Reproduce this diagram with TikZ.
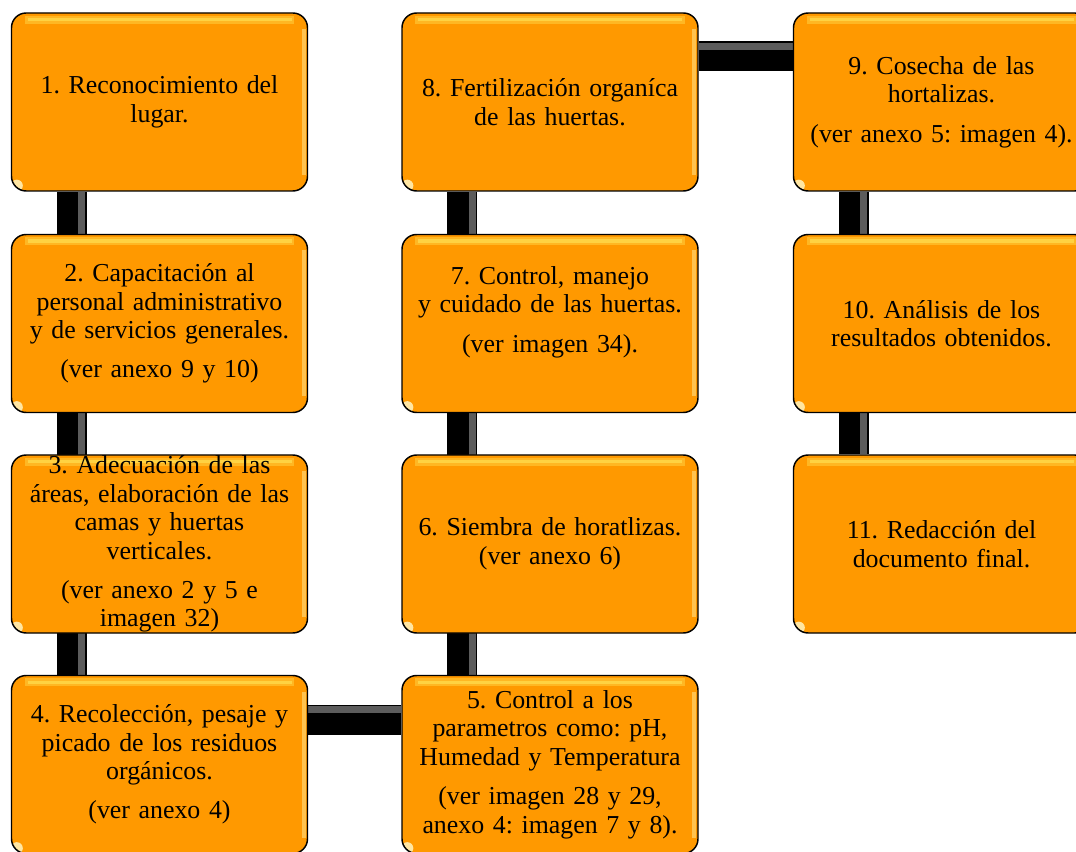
\documentclass[tikz,border=0pt]{standalone}
\usepackage{fontspec}
\setmainfont{Liberation Serif}
\usetikzlibrary{calc,backgrounds}
\definecolor{naranja}{RGB}{255,153,0}
\definecolor{brillo}{RGB}{255,214,70}
\newcommand{\salto}{8pt}
\tikzset{
  paso/.style={draw=black, line width=1.1pt, fill=naranja, rounded corners=11pt,
    minimum width=222pt, minimum height=133.5pt, inner sep=0pt,
    text width=214pt, align=center, font=\fontsize{19.4}{21.4}\selectfont,
    path picture={
      \draw[brillo, line width=6pt, opacity=.5] ([xshift=10pt,yshift=-5pt]path picture bounding box.north west) -- ([xshift=-10pt,yshift=-5pt]path picture bounding box.north east);
      \draw[brillo, line width=2.5pt, opacity=.9] ([xshift=12pt,yshift=-5pt]path picture bounding box.north west) -- ([xshift=-12pt,yshift=-5pt]path picture bounding box.north east);
      \draw[brillo!60!white, line width=3pt, opacity=.55] ([xshift=-3pt,yshift=-12pt]path picture bounding box.north east) -- ([xshift=-3pt,yshift=12pt]path picture bounding box.south east);
      \fill[brillo!40!white, opacity=.9] ([xshift=4pt,yshift=4pt]path picture bounding box.south west) circle (4.5pt);
    }},
  barra/.style={line width=22.5pt, black},
  barrabrillo/.style={line width=5pt, gray!55, opacity=.5}
}
\begin{document}
\frenchspacing
\begin{tikzpicture}[x=0.75pt,y=-0.75pt]
  \useasboundingbox (0,0) rectangle (1076,852);
        \node (p1) at (159.5,102) [paso] {1. Reconocimiento del\\ lugar.};
        \node (p2) at (159.5,323.5) [paso] {2. Capacitación al\\ personal administrativo\\ y de servicios generales.\\[\salto] (ver anexo 9 y 10)};
        \node (p3) at (159.5,544) [paso] {3. Adecuación de las\\ áreas, elaboración de las\\ camas y huertas\\ verticales.\\[\salto] (ver anexo 2 y 5 e\\ imagen 32)};
        \node (p4) at (159.5,764.5) [paso] {4. Recolección, pesaje y\\ picado de los residuos\\ orgánicos.\\[\salto] (ver anexo 4)};
        \node (p5) at (550,764.5) [paso] {5. Control a los\\ parametros como: pH,\\ Humedad y Temperatura\\[\salto] (ver imagen 28 y 29,\\ anexo 4: imagen 7 y 8).};
        \node (p6) at (550,544) [paso] {6. Siembra de horatlizas.\\ (ver anexo 6)};
        \node (p7) at (550,323.5) [paso] {7. Control, manejo\\ y cuidado de las huertas.\\[\salto] (ver imagen 34).\\ \mbox{}};
        \node (p8) at (550,102) [paso] {8. Fertilización organíca\\ de las huertas.};
        \node (p9) at (941.5,102) [paso] {9. Cosecha de las\\ hortalizas.\\[\salto] (ver anexo 5: imagen 4).};
        \node (p10) at (941.5,323.5) [paso] {10. Análisis de los\\ resultados obtenidos.};
        \node (p11) at (941.5,544) [paso] {11. Redacción del\\ documento final.};

  % conectores detras de las cajas
  \begin{scope}[on background layer]
        \draw[barra] ($(p1.south west)+(61,0)$) -- ($(p4.north west)+(61,0)$);
        \draw[barrabrillo] ($(p1.south west)+(71,0)$) -- ($(p4.north west)+(71,0)$);
        \draw[barra] ($(p4.north east)+(0,45)$) -- ($(p5.north west)+(0,45)$);
        \draw[barrabrillo] ($(p4.north east)+(0,35)$) -- ($(p5.north west)+(0,35)$);
        \draw[barra] ($(p8.south west)+(61,0)$) -- ($(p5.north west)+(61,0)$);
        \draw[barrabrillo] ($(p8.south west)+(71,0)$) -- ($(p5.north west)+(71,0)$);
        \draw[barra] ($(p8.north east)+(0,44)$) -- ($(p9.north west)+(0,44)$);
        \draw[barrabrillo] ($(p8.north east)+(0,34)$) -- ($(p9.north west)+(0,34)$);
        \draw[barra] ($(p9.south west)+(61,0)$) -- ($(p11.north west)+(61,0)$);
        \draw[barrabrillo] ($(p9.south west)+(71,0)$) -- ($(p11.north west)+(71,0)$);
  \end{scope}
\end{tikzpicture}
\end{document}
